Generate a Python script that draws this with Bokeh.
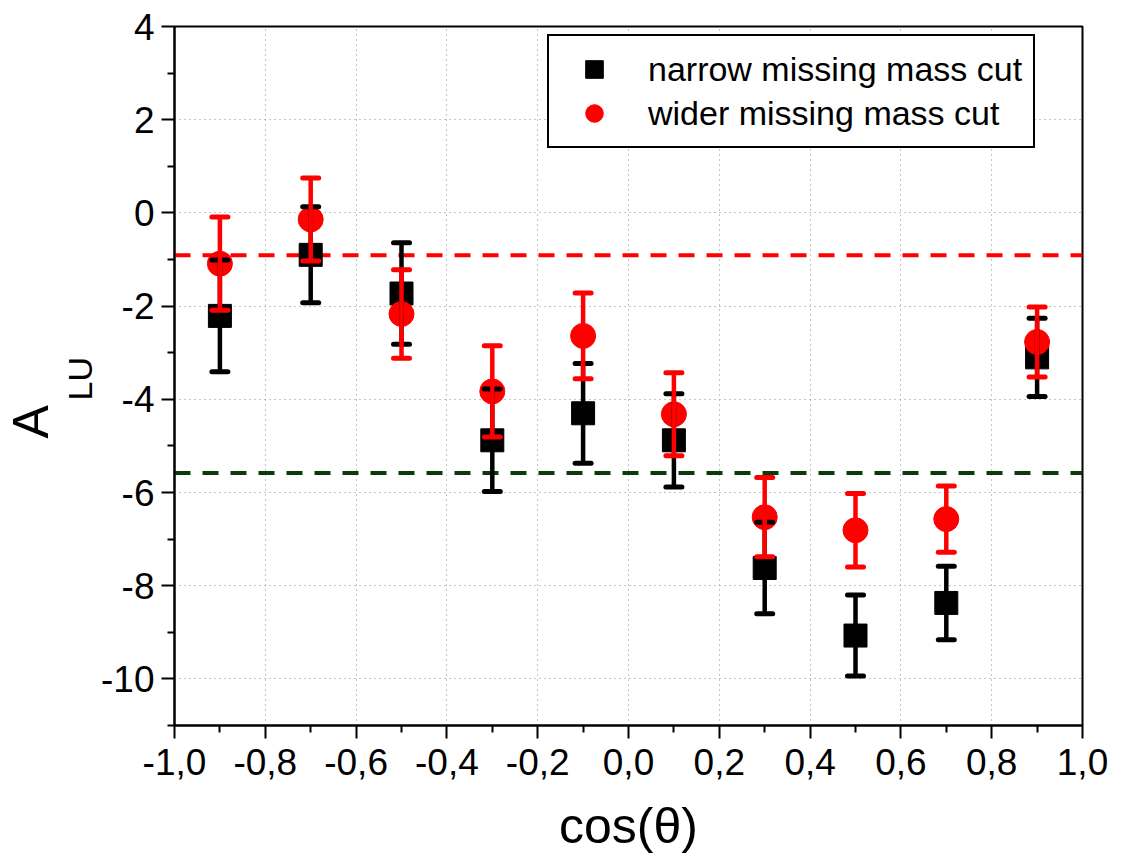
from bokeh.plotting import figure
from bokeh.models import (ColumnDataSource, Whisker, TeeHead, Span, Range1d,
                          FixedTicker, Title)
from bokeh.embed import file_html
from bokeh.resources import INLINE

# Beam-spin asymmetry A_LU versus cos(theta), two missing-mass selections
cos_theta = [-0.9, -0.7, -0.5, -0.3, -0.1, 0.1, 0.3, 0.5, 0.7, 0.9]
narrow_alu = [-2.21, -0.90, -1.73, -4.88, -4.30, -4.88, -7.62, -9.07, -8.37, -3.10]
narrow_err = [1.20, 1.03, 1.09, 1.10, 1.07, 1.00, 0.98, 0.87, 0.79, 0.84]
wider_alu = [-1.09, -0.14, -2.17, -3.83, -2.64, -4.32, -6.53, -6.81, -6.57, -2.77]
wider_err = [1.00, 0.89, 0.95, 0.98, 0.92, 0.89, 0.85, 0.79, 0.71, 0.75]

# horizontal reference levels
level_wider = -0.91
level_narrow = -5.58

x_ticks = [-1.0, -0.8, -0.6, -0.4, -0.2, 0.0, 0.2, 0.4, 0.6, 0.8, 1.0]
x_tick_labels = ["-1,0", "-0,8", "-0,6", "-0,4", "-0,2", "0,0",
                 "0,2", "0,4", "0,6", "0,8", "1,0"]
x_minor = [-0.9, -0.7, -0.5, -0.3, -0.1, 0.1, 0.3, 0.5, 0.7, 0.9]
y_ticks = [-10, -8, -6, -4, -2, 0, 2, 4]
y_tick_labels = ["-10", "-8", "-6", "-4", "-2", "0", "2", "4"]
y_minor = [-11, -9, -7, -5, -3, -1, 1, 3]

FONT = "Liberation Sans"

narrow_src = ColumnDataSource(data=dict(
    x=cos_theta, y=narrow_alu,
    lower=[v - e for v, e in zip(narrow_alu, narrow_err)],
    upper=[v + e for v, e in zip(narrow_alu, narrow_err)],
))
wider_src = ColumnDataSource(data=dict(
    x=cos_theta, y=wider_alu,
    lower=[v - e for v, e in zip(wider_alu, wider_err)],
    upper=[v + e for v, e in zip(wider_alu, wider_err)],
))

p = figure(width=1124, height=857, output_backend="svg", toolbar_location=None,
           x_range=Range1d(-1.0, 1.0), y_range=Range1d(-11, 4),
           min_border_left=174, min_border_right=42,
           min_border_top=26, min_border_bottom=132)

p.background_fill_color = "white"
p.border_fill_color = "white"
p.outline_line_color = "black"
p.outline_line_width = 2

# axes
p.xaxis.ticker = FixedTicker(ticks=x_ticks, minor_ticks=x_minor)
p.yaxis.ticker = FixedTicker(ticks=y_ticks, minor_ticks=y_minor)
p.xaxis.major_label_overrides = {t: s for t, s in zip(x_ticks, x_tick_labels)}
p.yaxis.major_label_overrides = {t: s for t, s in zip(y_ticks, y_tick_labels)}
for ax in (p.xaxis[0], p.yaxis[0]):
    ax.axis_line_width = 2
    ax.axis_line_color = "black"
    ax.major_tick_line_width = 2
    ax.minor_tick_line_width = 2
    ax.major_tick_line_color = "black"
    ax.minor_tick_line_color = "black"
    ax.major_tick_in = 0
    ax.major_tick_out = 13
    ax.minor_tick_in = 0
    ax.minor_tick_out = 7
    ax.major_label_text_font = FONT
    ax.major_label_text_font_size = "37px"
    ax.major_label_text_color = "black"
p.xaxis.major_label_standoff = 10
p.yaxis.major_label_standoff = 7

p.xaxis.axis_label = "cos(θ)"
p.xaxis.axis_label_text_font = FONT
p.xaxis.axis_label_text_font_size = "50px"
p.xaxis.axis_label_text_font_style = "normal"
p.xaxis.axis_label_text_color = "black"
p.xaxis.axis_label_standoff = 20

# y-axis title A_LU: subscript nearer the axis, raised above the A
p.add_layout(Title(text="LU", text_font=FONT, text_font_size="34px",
                   text_font_style="normal", text_color="black",
                   align="left", offset=325, standoff=0), "left")
p.add_layout(Title(text="A", text_font=FONT, text_font_size="50px",
                   text_font_style="normal", text_color="black",
                   align="left", offset=287, standoff=0), "left")

# grid
p.xgrid.ticker = FixedTicker(ticks=x_ticks)
p.ygrid.ticker = FixedTicker(ticks=y_ticks)
for g in (p.xgrid[0], p.ygrid[0]):
    g.grid_line_color = "#8a8a8a"
    g.grid_line_dash = "1 4"
    g.grid_line_width = 1

# reference levels
p.add_layout(Span(location=level_wider, dimension="width", line_color="#ff0000",
                  line_width=4, line_dash="16 12", level="underlay"))
p.add_layout(Span(location=level_narrow, dimension="width", line_color="#0b3b0b",
                  line_width=4, line_dash="16 12", level="underlay"))

# points
p.scatter("x", "y", source=narrow_src, marker="square", size=23,
          fill_color="black", line_color="black",
          legend_label="narrow missing mass cut")
p.scatter("x", "y", source=wider_src, marker="circle", size=25,
          fill_color="#ff0000", line_color="#ff0000",
          legend_label="wider missing mass cut")

# error bars
for src, col in ((narrow_src, "black"), (wider_src, "#ff0000")):
    p.add_layout(Whisker(
        source=src, base="x", lower="lower", upper="upper", dimension="height",
        line_color=col, line_width=4.5, level="annotation",
        upper_head=TeeHead(size=16, line_color=col, line_width=5, line_cap="round"),
        lower_head=TeeHead(size=16, line_color=col, line_width=5, line_cap="round"),
    ))

# legend
lg = p.legend[0]
lg.location = (373, 577)
lg.label_text_font = FONT
lg.label_text_font_size = "34px"
lg.label_text_color = "black"
lg.border_line_color = "black"
lg.border_line_alpha = 1.0
lg.border_line_width = 2
lg.background_fill_color = "white"
lg.background_fill_alpha = 1.0
lg.glyph_width = 68
lg.glyph_height = 44
lg.label_height = 44
lg.label_standoff = 20
lg.spacing = 0
lg.padding = 11
lg.margin = 0

open("out.html", "w").write(file_html(p, INLINE))
